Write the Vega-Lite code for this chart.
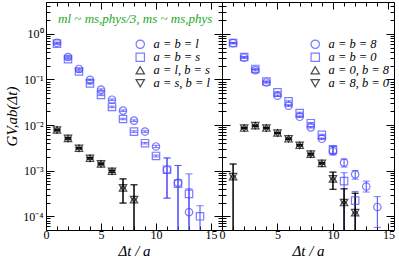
{
  "$schema": "https://vega.github.io/schema/vega-lite/v6.json",
  "padding": {"left": 4, "top": 1, "right": 0, "bottom": 0},
  "background": "white",
  "bounds": "flush",
  "config": {
    "view": {"stroke": "black", "strokeWidth": 1},
    "axis": {"domain": false, "grid": false, "tickColor": "black", "labelColor": "black", "titleColor": "black", "labelFont": "Liberation Serif", "titleFont": "Liberation Serif", "titleFontWeight": "normal", "labelFontSize": 12, "labelOverlap": false, "labelFlush": false, "tickWidth": 1, "offset": 0},
    "legend": {"labelFont": "Liberation Serif", "labelFontStyle": "italic", "labelFontSize": 12.5, "labelColor": "black"}
  },
  "resolve": {"scale": {"stroke": "independent", "shape": "independent"}, "legend": {"stroke": "independent", "shape": "independent"}},
  "datasets": {
    "left": [
      {"t": 1, "s": "a = b = l", "v": 0.64, "lo": 0.62, "hi": 0.66},
      {"t": 2, "s": "a = b = l", "v": 0.31, "lo": 0.30, "hi": 0.32},
      {"t": 3, "s": "a = b = l", "v": 0.17, "lo": 0.164, "hi": 0.176},
      {"t": 4, "s": "a = b = l", "v": 0.098, "lo": 0.094, "hi": 0.102},
      {"t": 5, "s": "a = b = l", "v": 0.060, "lo": 0.0578, "hi": 0.0622},
      {"t": 6, "s": "a = b = l", "v": 0.036, "lo": 0.0346, "hi": 0.0374},
      {"t": 7, "s": "a = b = l", "v": 0.0207, "lo": 0.0199, "hi": 0.0215},
      {"t": 8, "s": "a = b = l", "v": 0.0125, "lo": 0.012, "hi": 0.013},
      {"t": 9, "s": "a = b = l", "v": 0.0072, "lo": 0.0069, "hi": 0.0075},
      {"t": 10, "s": "a = b = l", "v": 0.0034, "lo": 0.0032, "hi": 0.0036},
      {"t": 11, "s": "a = b = l", "v": 0.00105, "lo": 0.00025, "hi": 0.0019},
      {"t": 12, "s": "a = b = l", "v": 0.00054, "lo": 0.00001, "hi": 0.0013},
      {"t": 13, "s": "a = b = l", "v": 0.000123, "lo": 0.00001, "hi": 0.0004},
      {"t": 1, "s": "a = b = s", "v": 0.61, "lo": 0.59, "hi": 0.63},
      {"t": 2, "s": "a = b = s", "v": 0.28, "lo": 0.27, "hi": 0.29},
      {"t": 3, "s": "a = b = s", "v": 0.15, "lo": 0.145, "hi": 0.155},
      {"t": 4, "s": "a = b = s", "v": 0.082, "lo": 0.079, "hi": 0.085},
      {"t": 5, "s": "a = b = s", "v": 0.046, "lo": 0.0443, "hi": 0.0477},
      {"t": 6, "s": "a = b = s", "v": 0.025, "lo": 0.024, "hi": 0.026},
      {"t": 7, "s": "a = b = s", "v": 0.0136, "lo": 0.0131, "hi": 0.0141},
      {"t": 8, "s": "a = b = s", "v": 0.0072, "lo": 0.0069, "hi": 0.0075},
      {"t": 9, "s": "a = b = s", "v": 0.0040, "lo": 0.00385, "hi": 0.00415},
      {"t": 10, "s": "a = b = s", "v": 0.0021, "lo": 0.0020, "hi": 0.0022},
      {"t": 11, "s": "a = b = s", "v": 0.00105, "lo": 0.00025, "hi": 0.0019},
      {"t": 12, "s": "a = b = s", "v": 0.00052, "lo": 0.00001, "hi": 0.0013},
      {"t": 13, "s": "a = b = s", "v": 0.00031, "lo": 0.00001, "hi": 0.00085},
      {"t": 14, "s": "a = b = s", "v": 0.0001, "lo": 0.00001, "hi": 0.00017},
      {"t": 1, "s": "a = l, b = s", "v": 0.0078, "lo": 0.0075, "hi": 0.0081},
      {"t": 2, "s": "a = l, b = s", "v": 0.0051, "lo": 0.0049, "hi": 0.0053},
      {"t": 3, "s": "a = l, b = s", "v": 0.0031, "lo": 0.0030, "hi": 0.0032},
      {"t": 4, "s": "a = l, b = s", "v": 0.00187, "lo": 0.0018, "hi": 0.00194},
      {"t": 5, "s": "a = l, b = s", "v": 0.00141, "lo": 0.00135, "hi": 0.00147},
      {"t": 6, "s": "a = l, b = s", "v": 0.00097, "lo": 0.00092, "hi": 0.00102},
      {"t": 7, "s": "a = l, b = s", "v": 0.00042, "lo": 0.000195, "hi": 0.00066},
      {"t": 8, "s": "a = l, b = s", "v": 0.000232, "lo": 0.00001, "hi": 0.00049},
      {"t": 1, "s": "a = s, b = l", "v": 0.0078, "lo": 0.0075, "hi": 0.0081},
      {"t": 2, "s": "a = s, b = l", "v": 0.0051, "lo": 0.0049, "hi": 0.0053},
      {"t": 3, "s": "a = s, b = l", "v": 0.0031, "lo": 0.0030, "hi": 0.0032},
      {"t": 4, "s": "a = s, b = l", "v": 0.00187, "lo": 0.0018, "hi": 0.00194},
      {"t": 5, "s": "a = s, b = l", "v": 0.00141, "lo": 0.00135, "hi": 0.00147},
      {"t": 6, "s": "a = s, b = l", "v": 0.00097, "lo": 0.00092, "hi": 0.00102},
      {"t": 7, "s": "a = s, b = l", "v": 0.00042, "lo": 0.000195, "hi": 0.00066},
      {"t": 8, "s": "a = s, b = l", "v": 0.000232, "lo": 0.00001, "hi": 0.00049}
    ],
    "right": [
      {"t": 1, "s": "a = b = 8", "v": 0.625, "lo": 0.605, "hi": 0.645},
      {"t": 2, "s": "a = b = 8", "v": 0.30, "lo": 0.29, "hi": 0.31},
      {"t": 3, "s": "a = b = 8", "v": 0.16, "lo": 0.154, "hi": 0.166},
      {"t": 4, "s": "a = b = 8", "v": 0.086, "lo": 0.083, "hi": 0.089},
      {"t": 5, "s": "a = b = 8", "v": 0.044, "lo": 0.0424, "hi": 0.0456},
      {"t": 6, "s": "a = b = 8", "v": 0.0266, "lo": 0.0256, "hi": 0.0276},
      {"t": 7, "s": "a = b = 8", "v": 0.0152, "lo": 0.0146, "hi": 0.0158},
      {"t": 8, "s": "a = b = 8", "v": 0.0089, "lo": 0.0086, "hi": 0.0092},
      {"t": 9, "s": "a = b = 8", "v": 0.0050, "lo": 0.0048, "hi": 0.0052},
      {"t": 10, "s": "a = b = 8", "v": 0.0027, "lo": 0.0022, "hi": 0.0034},
      {"t": 11, "s": "a = b = 8", "v": 0.0015, "lo": 0.0012, "hi": 0.0018},
      {"t": 12, "s": "a = b = 8", "v": 0.00083, "lo": 0.00065, "hi": 0.001},
      {"t": 13, "s": "a = b = 8", "v": 0.00045, "lo": 0.00034, "hi": 0.00059},
      {"t": 14, "s": "a = b = 8", "v": 0.00016, "lo": 0.000057, "hi": 0.00027},
      {"t": 1, "s": "a = b = 0", "v": 0.63, "lo": 0.61, "hi": 0.65},
      {"t": 2, "s": "a = b = 0", "v": 0.31, "lo": 0.30, "hi": 0.32},
      {"t": 3, "s": "a = b = 0", "v": 0.17, "lo": 0.164, "hi": 0.176},
      {"t": 4, "s": "a = b = 0", "v": 0.09, "lo": 0.087, "hi": 0.093},
      {"t": 5, "s": "a = b = 0", "v": 0.052, "lo": 0.050, "hi": 0.054},
      {"t": 6, "s": "a = b = 0", "v": 0.033, "lo": 0.0318, "hi": 0.0342},
      {"t": 7, "s": "a = b = 0", "v": 0.0184, "lo": 0.0177, "hi": 0.0191},
      {"t": 8, "s": "a = b = 0", "v": 0.011, "lo": 0.0106, "hi": 0.0114},
      {"t": 9, "s": "a = b = 0", "v": 0.0061, "lo": 0.0059, "hi": 0.0063},
      {"t": 10, "s": "a = b = 0", "v": 0.0029, "lo": 0.0023, "hi": 0.0035},
      {"t": 11, "s": "a = b = 0", "v": 0.00059, "lo": 0.00001, "hi": 0.0009},
      {"t": 12, "s": "a = b = 0", "v": 0.00022, "lo": 0.00001, "hi": 0.00035},
      {"t": 1, "s": "a = 0, b = 8", "v": 0.00074, "lo": 0.00001, "hi": 0.0014},
      {"t": 2, "s": "a = 0, b = 8", "v": 0.0086, "lo": 0.0083, "hi": 0.0089},
      {"t": 3, "s": "a = 0, b = 8", "v": 0.0097, "lo": 0.0094, "hi": 0.0100},
      {"t": 4, "s": "a = 0, b = 8", "v": 0.0086, "lo": 0.0083, "hi": 0.0089},
      {"t": 5, "s": "a = 0, b = 8", "v": 0.0067, "lo": 0.0065, "hi": 0.0069},
      {"t": 6, "s": "a = 0, b = 8", "v": 0.0050, "lo": 0.0048, "hi": 0.0052},
      {"t": 7, "s": "a = 0, b = 8", "v": 0.0036, "lo": 0.00347, "hi": 0.00373},
      {"t": 8, "s": "a = 0, b = 8", "v": 0.0023, "lo": 0.0022, "hi": 0.0024},
      {"t": 9, "s": "a = 0, b = 8", "v": 0.00145, "lo": 0.0014, "hi": 0.0015},
      {"t": 10, "s": "a = 0, b = 8", "v": 0.00066, "lo": 0.00039, "hi": 0.00093},
      {"t": 11, "s": "a = 0, b = 8", "v": 0.0002, "lo": 0.00001, "hi": 0.0004},
      {"t": 12, "s": "a = 0, b = 8", "v": 0.00012, "lo": 0.00001, "hi": 0.00032},
      {"t": 1, "s": "a = 8, b = 0", "v": 0.00074, "lo": 0.00001, "hi": 0.0014},
      {"t": 2, "s": "a = 8, b = 0", "v": 0.0086, "lo": 0.0083, "hi": 0.0089},
      {"t": 3, "s": "a = 8, b = 0", "v": 0.0097, "lo": 0.0094, "hi": 0.0100},
      {"t": 4, "s": "a = 8, b = 0", "v": 0.0086, "lo": 0.0083, "hi": 0.0089},
      {"t": 5, "s": "a = 8, b = 0", "v": 0.0067, "lo": 0.0065, "hi": 0.0069},
      {"t": 6, "s": "a = 8, b = 0", "v": 0.0050, "lo": 0.0048, "hi": 0.0052},
      {"t": 7, "s": "a = 8, b = 0", "v": 0.0036, "lo": 0.00347, "hi": 0.00373},
      {"t": 8, "s": "a = 8, b = 0", "v": 0.0023, "lo": 0.0022, "hi": 0.0024},
      {"t": 9, "s": "a = 8, b = 0", "v": 0.00145, "lo": 0.0014, "hi": 0.0015},
      {"t": 10, "s": "a = 8, b = 0", "v": 0.00066, "lo": 0.00039, "hi": 0.00093},
      {"t": 11, "s": "a = 8, b = 0", "v": 0.0002, "lo": 0.00001, "hi": 0.0004},
      {"t": 12, "s": "a = 8, b = 0", "v": 0.00012, "lo": 0.00001, "hi": 0.00032}
    ]
  },
  "hconcat": [
    {
      "width": 176,
      "height": 228,
      "data": {"name": "left"},
      "resolve": {"axis": {"x": "independent", "y": "independent"}},
      "layer": [
        {
          "mark": {"type": "rule", "clip": true, "strokeWidth": 1},
          "encoding": {
            "x": {"field": "t", "type": "quantitative", "scale": {"domain": [0, 16], "nice": false, "zero": false},
                  "axis": {"orient": "top", "values": [0, 5, 10, 15], "labels": false, "title": null, "tickSize": -7}},
            "y": {"field": "lo", "type": "quantitative", "scale": {"type": "log", "domain": [0.00005, 5], "nice": false},
                  "axis": {"orient": "right", "values": [0.0001, 0.001, 0.01, 0.1, 1], "labels": false, "title": null, "tickSize": -8}},
            "y2": {"field": "hi"},
            "stroke": {"field": "s", "type": "nominal", "scale": {"domain": ["a = b = l", "a = b = s", "a = l, b = s", "a = s, b = l"], "range": ["#4646ff", "#4646ff", "#000000", "#000000"]}}
          }
        },
        {
          "mark": {"type": "point", "shape": "stroke", "filled": false, "size": 49, "strokeWidth": 1, "clip": true},
          "encoding": {
            "x": {"field": "t", "type": "quantitative", "scale": {"domain": [0, 16], "nice": false, "zero": false},
                  "axis": {"orient": "bottom", "values": [1,2,3,4,6,7,8,9,11,12,13,14,16], "labels": false, "title": null, "tickSize": -4}},
            "y": {"field": "lo", "type": "quantitative", "scale": {"type": "log", "domain": [0.00005, 5], "nice": false},
                  "axis": {"orient": "left", "values": [0.00005,0.00006,0.00007,0.00008,0.00009,0.0002,0.0003,0.0004,0.0005,0.0006,0.0007,0.0008,0.0009,0.002,0.003,0.004,0.005,0.006,0.007,0.008,0.009,0.02,0.03,0.04,0.05,0.06,0.07,0.08,0.09,0.2,0.3,0.4,0.5,0.6,0.7,0.8,0.9,2,3,4,5], "labels": false, "title": null, "tickSize": -4}},
            "stroke": {"field": "s", "type": "nominal"}
          }
        },
        {
          "mark": {"type": "point", "shape": "stroke", "filled": false, "size": 49, "strokeWidth": 1, "clip": true},
          "encoding": {
            "x": {"field": "t", "type": "quantitative", "scale": {"domain": [0, 16], "nice": false, "zero": false},
                  "axis": {"orient": "top", "values": [1,2,3,4,6,7,8,9,11,12,13,14,16], "labels": false, "title": null, "tickSize": -4}},
            "y": {"field": "hi", "type": "quantitative", "scale": {"type": "log", "domain": [0.00005, 5], "nice": false},
                  "axis": {"orient": "right", "values": [0.00005,0.00006,0.00007,0.00008,0.00009,0.0002,0.0003,0.0004,0.0005,0.0006,0.0007,0.0008,0.0009,0.002,0.003,0.004,0.005,0.006,0.007,0.008,0.009,0.02,0.03,0.04,0.05,0.06,0.07,0.08,0.09,0.2,0.3,0.4,0.5,0.6,0.7,0.8,0.9,2,3,4,5], "labels": false, "title": null, "tickSize": -4}},
            "stroke": {"field": "s", "type": "nominal"}
          }
        },
        {
          "mark": {"type": "point", "filled": false, "size": 55, "strokeWidth": 1.2, "clip": true},
          "encoding": {
            "x": {"field": "t", "type": "quantitative", "scale": {"domain": [0, 16], "nice": false, "zero": false},
                  "axis": {"orient": "bottom", "values": [0, 5, 10, 15], "labelFont": "Liberation Serif", "title": "Δt / a", "titleFontStyle": "italic", "titleFontSize": 15, "titlePadding": 3, "labelPadding": 6, "tickSize": -7}},
            "y": {"field": "v", "type": "quantitative", "scale": {"type": "log", "domain": [0.00005, 5], "nice": false},
                  "axis": {"orient": "left", "values": [0.0001, 0.001, 0.01, 0.1, 1], "labelFont": "Liberation Serif",
                           "labelExpr": "'10' + ['⁰','⁻¹','⁻²','⁻³','⁻⁴'][-round(log(datum.value)/LN10)]",
                           "title": "GV,ab(Δt)", "titleFontStyle": "italic", "titleFontSize": 15, "titlePadding": 3, "labelPadding": 11, "tickSize": -8}},
            "stroke": {"field": "s", "type": "nominal", "legend": {"title": null, "orient": "none", "legendX": 88, "legendY": 36, "labelFont": "Liberation Serif", "symbolStrokeWidth": 1.2, "symbolSize": 70, "rowPadding": -2, "labelOffset": 7}},
            "shape": {"field": "s", "type": "nominal", "scale": {"domain": ["a = b = l", "a = b = s", "a = l, b = s", "a = s, b = l"], "range": ["circle", "square", "triangle-up", "triangle-down"]}, "legend": {"title": null, "orient": "none", "legendX": 88, "legendY": 36, "labelFont": "Liberation Serif", "symbolStrokeWidth": 1.2, "symbolSize": 70, "rowPadding": -2, "labelOffset": 7}}
          }
        },
        {
          "data": {"values": [{"x": 1.1, "y": 2.1, "label": "ml ~ ms,phys/3,  ms ~ ms,phys"}]},
          "mark": {"type": "text", "align": "left", "baseline": "middle", "font": "Liberation Serif", "fontSize": 13, "fontStyle": "italic", "color": "#22aa22"},
          "encoding": {
            "x": {"field": "x", "type": "quantitative", "scale": {"domain": [0, 16], "nice": false, "zero": false}, "axis": null},
            "y": {"field": "y", "type": "quantitative", "scale": {"type": "log", "domain": [0.00005, 5], "nice": false}, "axis": null},
            "text": {"field": "label"}
          }
        }
      ]
    },
    {
      "width": 172,
      "height": 228,
      "data": {"name": "right"},
      "resolve": {"axis": {"x": "independent", "y": "independent"}},
      "layer": [
        {
          "mark": {"type": "rule", "clip": true, "strokeWidth": 1},
          "encoding": {
            "x": {"field": "t", "type": "quantitative", "scale": {"domain": [0, 15.5], "nice": false, "zero": false},
                  "axis": {"orient": "top", "values": [0, 5, 10, 15], "labels": false, "title": null, "tickSize": -7}},
            "y": {"field": "lo", "type": "quantitative", "scale": {"type": "log", "domain": [0.00005, 5], "nice": false},
                  "axis": {"orient": "right", "values": [0.0001, 0.001, 0.01, 0.1, 1], "labels": false, "title": null, "tickSize": -8}},
            "y2": {"field": "hi"},
            "stroke": {"field": "s", "type": "nominal", "scale": {"domain": ["a = b = 8", "a = b = 0", "a = 0, b = 8", "a = 8, b = 0"], "range": ["#4646ff", "#4646ff", "#000000", "#000000"]}}
          }
        },
        {
          "mark": {"type": "point", "shape": "stroke", "filled": false, "size": 49, "strokeWidth": 1, "clip": true},
          "encoding": {
            "x": {"field": "t", "type": "quantitative", "scale": {"domain": [0, 15.5], "nice": false, "zero": false},
                  "axis": {"orient": "bottom", "values": [1,2,3,4,6,7,8,9,11,12,13,14], "labels": false, "title": null, "tickSize": -4}},
            "y": {"field": "lo", "type": "quantitative", "scale": {"type": "log", "domain": [0.00005, 5], "nice": false},
                  "axis": {"orient": "left", "values": [0.00005,0.00006,0.00007,0.00008,0.00009,0.0002,0.0003,0.0004,0.0005,0.0006,0.0007,0.0008,0.0009,0.002,0.003,0.004,0.005,0.006,0.007,0.008,0.009,0.02,0.03,0.04,0.05,0.06,0.07,0.08,0.09,0.2,0.3,0.4,0.5,0.6,0.7,0.8,0.9,2,3,4,5], "labels": false, "title": null, "tickSize": -4}},
            "stroke": {"field": "s", "type": "nominal"}
          }
        },
        {
          "mark": {"type": "point", "shape": "stroke", "filled": false, "size": 49, "strokeWidth": 1, "clip": true},
          "encoding": {
            "x": {"field": "t", "type": "quantitative", "scale": {"domain": [0, 15.5], "nice": false, "zero": false},
                  "axis": {"orient": "top", "values": [1,2,3,4,6,7,8,9,11,12,13,14], "labels": false, "title": null, "tickSize": -4}},
            "y": {"field": "hi", "type": "quantitative", "scale": {"type": "log", "domain": [0.00005, 5], "nice": false},
                  "axis": {"orient": "right", "values": [0.00005,0.00006,0.00007,0.00008,0.00009,0.0002,0.0003,0.0004,0.0005,0.0006,0.0007,0.0008,0.0009,0.002,0.003,0.004,0.005,0.006,0.007,0.008,0.009,0.02,0.03,0.04,0.05,0.06,0.07,0.08,0.09,0.2,0.3,0.4,0.5,0.6,0.7,0.8,0.9,2,3,4,5], "labels": false, "title": null, "tickSize": -4}},
            "stroke": {"field": "s", "type": "nominal"}
          }
        },
        {
          "mark": {"type": "point", "filled": false, "size": 55, "strokeWidth": 1.2, "clip": true},
          "encoding": {
            "x": {"field": "t", "type": "quantitative", "scale": {"domain": [0, 15.5], "nice": false, "zero": false},
                  "axis": {"orient": "bottom", "values": [0, 5, 10, 15], "labelFont": "Liberation Serif", "title": "Δt / a", "titleFontStyle": "italic", "titleFontSize": 15, "titlePadding": 3, "labelPadding": 6, "tickSize": -7}},
            "y": {"field": "v", "type": "quantitative", "scale": {"type": "log", "domain": [0.00005, 5], "nice": false},
                  "axis": {"orient": "left", "values": [0.0001, 0.001, 0.01, 0.1, 1], "labels": false, "title": null, "tickSize": -8}},
            "stroke": {"field": "s", "type": "nominal", "legend": {"title": null, "orient": "none", "legendX": 87, "legendY": 36, "labelFont": "Liberation Serif", "symbolStrokeWidth": 1.2, "symbolSize": 70, "rowPadding": -2, "labelOffset": 7}},
            "shape": {"field": "s", "type": "nominal", "scale": {"domain": ["a = b = 8", "a = b = 0", "a = 0, b = 8", "a = 8, b = 0"], "range": ["circle", "square", "triangle-up", "triangle-down"]}, "legend": {"title": null, "orient": "none", "legendX": 87, "legendY": 36, "labelFont": "Liberation Serif", "symbolStrokeWidth": 1.2, "symbolSize": 70, "rowPadding": -2, "labelOffset": 7}}
          }
        }
      ]
    }
  ],
  "spacing": 0
}
